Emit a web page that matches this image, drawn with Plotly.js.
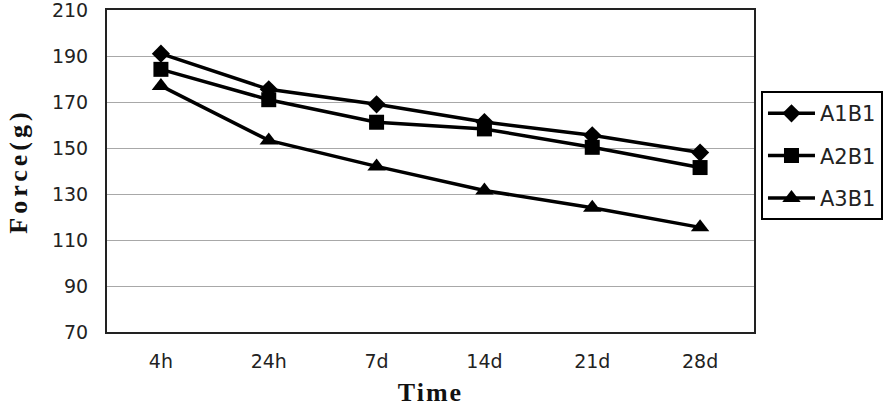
<!DOCTYPE html>
<html>
<head>
<meta charset="utf-8">
<script src="https://cdn.plot.ly/plotly-3.0.1.min.js"></script>
<style>
html,body{margin:0;padding:0;background:#fff;}
#chart{width:896px;height:408px;}
.ytitle{letter-spacing:4px;}
.xtitle{letter-spacing:2px;}
</style>
</head>
<body>
<div id="chart"></div>
<script>
var categories = ["4h", "24h", "7d", "14d", "21d", "28d"];
var seriesNames = ["A1B1", "A2B1", "A3B1"];
var a1b1 = [191, 175.5, 169, 161.3, 155.5, 148];
var a2b1 = [184.2, 171, 161.2, 158.3, 150.3, 141.5];
var a3b1 = [177, 153.3, 142, 131.5, 124, 115.5];
var yTicks = [70, 90, 110, 130, 150, 170, 190, 210];

var symbols = ["diamond", "square", "triangle-up"];
var sizes = [14, 15, 16];
var allValues = [a1b1, a2b1, a3b1];

var traces = allValues.map(function (vals, i) {
  return {
    x: categories,
    y: vals,
    name: seriesNames[i],
    type: "scatter",
    mode: "lines+markers",
    legendgroup: "g" + i,
    line: {color: "#000", width: 3.5},
    marker: {symbol: symbols[i], size: sizes[i], color: "#000"}
  };
});

var layout = {
  width: 896,
  height: 408,
  margin: {l: 107, r: 142, t: 10, b: 76},
  paper_bgcolor: "#fff",
  plot_bgcolor: "#fff",
  font: {family: "DejaVu Sans, sans-serif", size: 19, color: "#222"},
  showlegend: true,
  legend: {
    x: 1.0108, xanchor: "left",
    y: 0.748, yanchor: "top",
    bordercolor: "#000", borderwidth: 2,
    bgcolor: "#fff",
    font: {family: "DejaVu Sans, sans-serif", size: 21, color: "#222"},
    itemwidth: 47,
    tracegroupgap: 12,
    traceorder: "grouped"
  },
  xaxis: {
    type: "category",
    categoryarray: categories,
    range: [-0.5, 5.5],
    showgrid: false,
    showline: true, linecolor: "#222", linewidth: 2, mirror: true,
    ticks: "outside", ticklen: 11, tickcolor: "rgba(0,0,0,0)",
    zeroline: false,
    fixedrange: true,
    title: {text: "Time", font: {family: "Liberation Serif, serif", size: 26, color: "#111", weight: "bold"}, standoff: 12}
  },
  yaxis: {
    range: [70, 210.001],
    tickvals: yTicks,
    ticktext: yTicks.map(String),
    showgrid: true, gridcolor: "#a8a8a8", gridwidth: 1,
    showline: true, linecolor: "#222", linewidth: 2, mirror: true,
    ticks: "outside", ticklen: 13, tickcolor: "rgba(0,0,0,0)",
    zeroline: false,
    fixedrange: true,
    ticklabeloverflow: "allow",
    title: {text: "Force(g)", font: {family: "Liberation Serif, serif", size: 26, color: "#111", weight: "bold"}, standoff: 17}
  }
};

Plotly.newPlot("chart", traces, layout, {displayModeBar: false, staticPlot: true});
</script>
</body>
</html>
